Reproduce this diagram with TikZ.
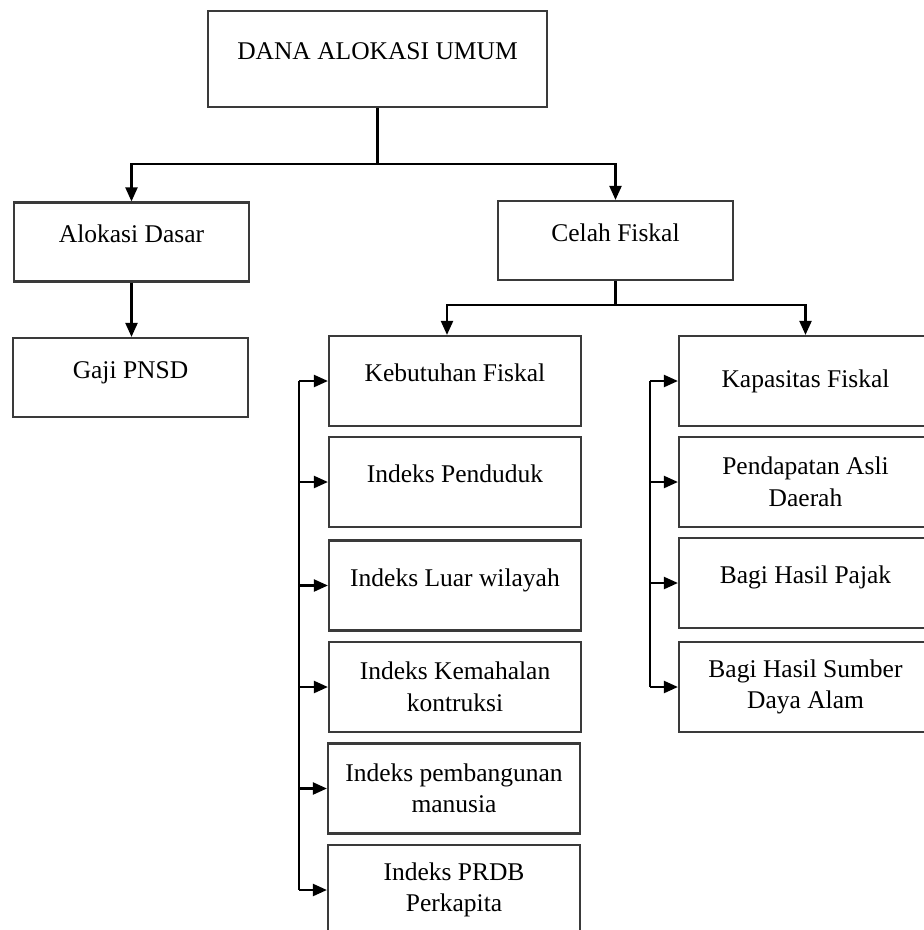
\documentclass[tikz,border=0pt]{standalone}
\usepackage{fontspec}
\setmainfont{Liberation Serif}
\usetikzlibrary{arrows.meta}
\definecolor{BoxLine}{HTML}{3A3A3A}

\begin{document}
\begin{tikzpicture}[x=1pt,y=-1pt, every node/.style={font=\fontsize{25.5}{31.5}\selectfont},
  kotak/.style={draw=BoxLine, line width=2.2pt, align=center, inner sep=0pt},
  satu/.style={kotak, text height=18pt, text depth=17pt},
  atas/.style={minimum width=235, minimum height=79},
  kolom/.style={minimum width=252, minimum height=90},
  garis/.style={line width=2.2pt},
  panah/.style={line width=2.2pt, -{Triangle[length=14pt,width=12pt]}}]
  \useasboundingbox (0,0) rectangle (924,930);
  \node[satu, minimum width=339, minimum height=96] (dau) at (377.5,59) {DANA ALOKASI UMUM};
  \node[satu, atas] (ad) at (131.5,242) {Alokasi Dasar};
  \node[satu, atas] (cf) at (615.5,240.5) {Celah Fiskal};
  \node[satu, atas] (gaji) at (130.5,377.5) {Gaji PNSD};
  \node[satu, kolom] (kf) at (455,381) {Kebutuhan Fiskal};
  \node[satu, kolom] (ip) at (455,482) {Indeks Penduduk};
  \node[satu, kolom] (ilw) at (455,585.5) {Indeks Luar wilayah};
  \node[kotak, kolom] (ikk) at (455,687) {Indeks Kemahalan\\kontruksi};
  \node[kotak, kolom] (ipm) at (454,788.5) {Indeks pembangunan\\manusia};
  \node[kotak, kolom] (iprdb) at (454,890) {Indeks PRDB\\Perkapita};
  \node[kotak, kolom, minimum width=253] (kpf) at (805.5,381) {Kapasitas Fiskal};
  \node[kotak, kolom, minimum width=253] (pad) at (805.5,482) {Pendapatan Asli\\Daerah};
  \node[satu, kolom, minimum width=253] (bhp) at (805.5,583) {Bagi Hasil Pajak};
  \node[kotak, kolom, minimum width=253] (bhsda) at (805.5,687) {Bagi Hasil Sumber\\Daya Alam};

  \draw[garis] (dau.south) -- ++(0,56) coordinate (t1);
  \draw[panah] (t1) -| (ad.north);
  \draw[panah] (t1) -| (cf.north);
  \draw[panah] (ad.south) -- (ad.south |- gaji.north);
  \draw[garis] (cf.south) -- ++(0,24) coordinate (t2);
  \draw[panah] (t2) -| ([xshift=-8pt]kf.north);
  \draw[panah] (t2) -| (kpf.north);

  \coordinate (rel1) at (299,0);
  \coordinate (rel2) at (650,0);
  \draw[garis] (kf.west -| rel1) -- (iprdb.west -| rel1);
  \foreach \n in {kf,ip,ilw,ikk,ipm,iprdb}
    \draw[panah] (\n.west -| rel1) -- (\n.west);
  \draw[garis] (kpf.west -| rel2) -- (bhsda.west -| rel2);
  \foreach \n in {kpf,pad,bhp,bhsda}
    \draw[panah] (\n.west -| rel2) -- (\n.west);
\end{tikzpicture}
\end{document}
